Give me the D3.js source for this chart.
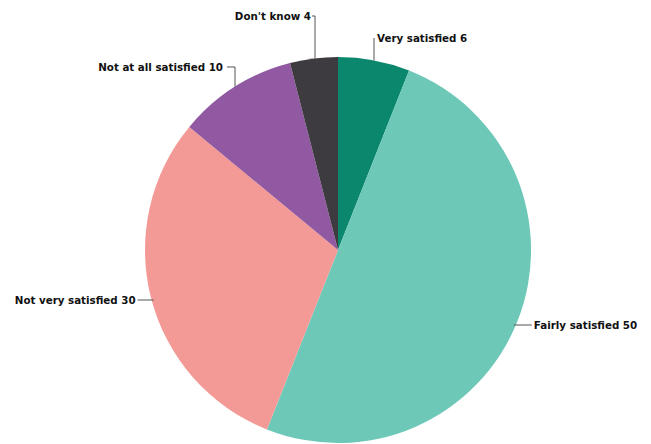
<!DOCTYPE html>
<html>
<head>
<meta charset="utf-8">
<script src="https://cdn.jsdelivr.net/npm/d3@7"></script>
<style>
  html, body { margin: 0; padding: 0; background: #fff; }
  svg { display: block; }
  .lbl { font-family: "DejaVu Sans", sans-serif; font-weight: bold; font-size: 10.3px; fill: #111; }
  .lead { fill: none; stroke: #555; stroke-width: 1; }
</style>
</head>
<body>
<svg id="chart" width="651" height="444"></svg>
<script>
// Satisfaction survey shares (%)
const categories = ["Very satisfied", "Fairly satisfied", "Not very satisfied", "Not at all satisfied", "Don't know"];
const values = [6, 50, 30, 10, 4];
const colors = ["#0a876d", "#6dc8b8", "#f39a96", "#9059a1", "#3e3b40"];

const width = 651, height = 444;
const cx = 338, cy = 250, radius = 193;

const svg = d3.select("#chart");
const g = svg.append("g").attr("transform", `translate(${cx},${cy})`);

const pie = d3.pie().sort(null).value(d => d.value);
const arc = d3.arc().innerRadius(0).outerRadius(radius);

const data = categories.map((c, i) => ({ name: c, value: values[i], color: colors[i] }));
const arcs = pie(data);

g.selectAll("path.slice")
  .data(arcs)
  .join("path")
  .attr("class", "slice")
  .attr("d", arc)
  .attr("fill", d => d.data.color);

// Label placement: each leader starts on the rim and ends at the text
const labelSpec = {
  "Very satisfied":       { kind: "up",   tx: 36,   ty: 38,  anchor: "start", hook: 0, gap: 3 },
  "Don't know":           { kind: "up",   tx: -23,  ty: 16,  anchor: "end",   hook: 3, gap: 1 },
  "Not at all satisfied": { kind: "up",   tx: -103, ty: 67,  anchor: "end",   hook: 8, gap: 4 },
  "Not very satisfied":   { kind: "side", ty: 300, anchor: "end" },
  "Fairly satisfied":     { kind: "side", ty: 325, anchor: "start" }
};

arcs.forEach(a => {
  const spec = labelSpec[a.data.name];
  const text = `${a.data.name} ${a.data.value}`;
  let pts, lx, ly;
  if (spec.kind === "up") {
    // vertical leader from the rim up to the label line
    const x = spec.tx;
    const yRim = -Math.sqrt(radius * radius - x * x);
    const yTop = spec.ty - cy;
    if (spec.anchor === "end") {
      pts = [[x, yRim], [x, yTop], [x - spec.hook, yTop]];
      lx = x - spec.hook - spec.gap; ly = yTop;
    } else {
      pts = [[x, yRim], [x, yTop], [x + spec.hook, yTop]];
      lx = x + spec.hook + spec.gap; ly = yTop;
    }
  } else {
    const y = spec.ty - cy;
    const xr = Math.sqrt(radius * radius - y * y);
    if (spec.anchor === "end") {
      pts = [[-xr + 2, y], [-xr - 14, y]];
      lx = -xr - 16; ly = y;
    } else {
      pts = [[xr - 2, y], [xr + 16, y]];
      lx = xr + 18; ly = y;
    }
  }
  g.append("path").attr("class", "lead").attr("d", d3.line()(pts));
  g.append("text")
    .attr("class", "lbl")
    .attr("x", lx)
    .attr("y", ly)
    .attr("dy", "0.35em")
    .attr("text-anchor", spec.anchor)
    .text(text);
});
</script>
</body>
</html>
